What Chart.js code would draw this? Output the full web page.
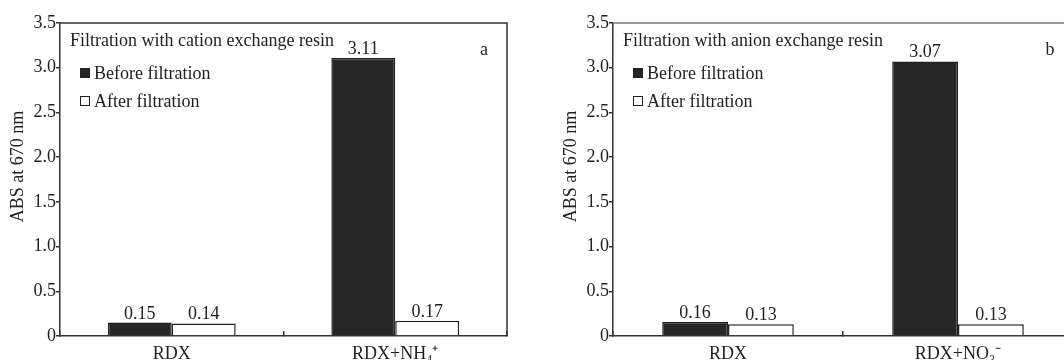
<!DOCTYPE html>
<html lang="en">
<head>
<meta charset="UTF-8">
<title>Filtration with ion exchange resin</title>
<style>
    html, body { margin: 0; padding: 0; overflow: hidden; background: #fff; }
    .panel { position: absolute; top: 0; height: 360px; }
    #panelA { left: 0; width: 540px; }
    #panelB { left: 540px; width: 560px; }
</style>
</head>
<body>
<div class="panel" id="panelA"><canvas id="chartA" width="540" height="360"></canvas></div>
<div class="panel" id="panelB"><canvas id="chartB" width="560" height="360"></canvas></div>
<script src="https://cdn.jsdelivr.net/npm/chart.js"></script>
<script>
const seriesNames = ['Before filtration', 'After filtration'];
const categoriesA = ['RDX', 'RDX+NH₄⁺'];
const beforeA = [0.15, 3.11];
const afterA = [0.14, 0.17];
const categoriesB = ['RDX', 'RDX+NO₃⁻'];
const beforeB = [0.16, 3.07];
const afterB = [0.13, 0.13];
const yTicks = [0, 0.5, 1.0, 1.5, 2.0, 2.5, 3.0, 3.5];

const FONT = "'Liberation Serif', 'Times New Roman', serif";
const INK = '#222';

// frame, inside legend, heading, panel letter, bar values, y title
const decor = {
    id: 'decor',
    afterDraw(chart, args, opts) {
        const ctx = chart.ctx;
        const a = chart.chartArea;
        ctx.save();

        // top + right side of the box
        ctx.strokeStyle = opts.frameColor;
        ctx.lineWidth = 1.5;
        ctx.beginPath();
        ctx.moveTo(a.left, a.top);
        ctx.lineTo(a.right, a.top);
        ctx.lineTo(a.right, a.bottom);
        ctx.stroke();

        ctx.font = '18px ' + FONT;
        ctx.fillStyle = INK;
        ctx.textBaseline = 'alphabetic';
        ctx.textAlign = 'left';
        ctx.fillText(opts.heading, a.left + 10, 46);
        ctx.textAlign = 'center';
        ctx.fillText(opts.letter, a.right - 23, 55);

        // legend
        chart.data.datasets.forEach((ds, i) => {
            const y = 68 + i * 28;
            ctx.fillStyle = ds.backgroundColor;
            ctx.fillRect(a.left + 20, y, 10, 10);
            ctx.strokeStyle = INK;
            ctx.lineWidth = 1;
            ctx.strokeRect(a.left + 20.5, y + 0.5, 9, 9);
            ctx.fillStyle = INK;
            ctx.textAlign = 'left';
            ctx.fillText(ds.label, a.left + 34, y + 11);
        });

        // values on top of bars
        ctx.textAlign = 'center';
        chart.data.datasets.forEach((ds, i) => {
            chart.getDatasetMeta(i).data.forEach((bar, j) => {
                ctx.fillText(ds.data[j].toFixed(2), bar.x, bar.y - 4);
            });
        });

        // y axis title
        ctx.textBaseline = 'middle';
        ctx.translate(a.left - 42, (a.top + a.bottom) / 2 - 13);
        ctx.rotate(-Math.PI / 2);
        ctx.fillText('ABS at 670 nm', 0, 0);
        ctx.restore();
    }
};

function makeChart(id, labels, before, after, o) {
    return new Chart(document.getElementById(id), {
        type: 'bar',
        data: {
            labels: labels,
            datasets: [
                { label: seriesNames[0], data: before, backgroundColor: '#262626', borderColor: INK, borderWidth: 1.5 },
                { label: seriesNames[1], data: after, backgroundColor: '#ffffff', borderColor: INK, borderWidth: 1.5 }
            ]
        },
        options: {
            responsive: false,
            animation: false,
            layout: { padding: { top: 23, right: o.padRight, left: 0, bottom: 0 } },
            datasets: { bar: { categoryPercentage: 0.572, barPercentage: 1 } },
            plugins: {
                legend: { display: false },
                tooltip: { enabled: false },
                decor: { heading: o.heading, letter: o.letter, frameColor: o.frameColor }
            },
            scales: {
                x: {
                    grid: { offset: true, drawOnChartArea: false, tickLength: -5, color: '#333', lineWidth: 1.5 },
                    border: { color: '#333', width: 1.5 },
                    ticks: { color: INK, font: { family: FONT, size: 18 }, padding: 12, maxRotation: 0 },
                    afterFit: s => { s.height = 24; }
                },
                y: {
                    min: 0,
                    max: 3.5,
                    afterBuildTicks: s => { s.ticks = yTicks.map(v => ({ value: v })); },
                    grid: { drawOnChartArea: false, tickLength: 4, color: '#333', lineWidth: 1.5 },
                    border: { color: '#333', width: 1.5 },
                    ticks: {
                        color: INK,
                        font: { family: FONT, size: 18 },
                        padding: 0,
                        callback: v => v === 0 ? '0' : v.toFixed(1)
                    },
                    afterFit: s => { s.width = o.yWidth; }
                }
            }
        },
        plugins: [decor]
    });
}

makeChart('chartA', categoriesA, beforeA, afterA, {
    heading: 'Filtration with cation exchange resin', letter: 'a',
    padRight: 33, yWidth: 60, frameColor: '#333'
});
makeChart('chartB', categoriesB, beforeB, afterB, {
    heading: 'Filtration with anion exchange resin', letter: 'b',
    padRight: 27, yWidth: 73, frameColor: '#777'
});
</script>
</body>
</html>
